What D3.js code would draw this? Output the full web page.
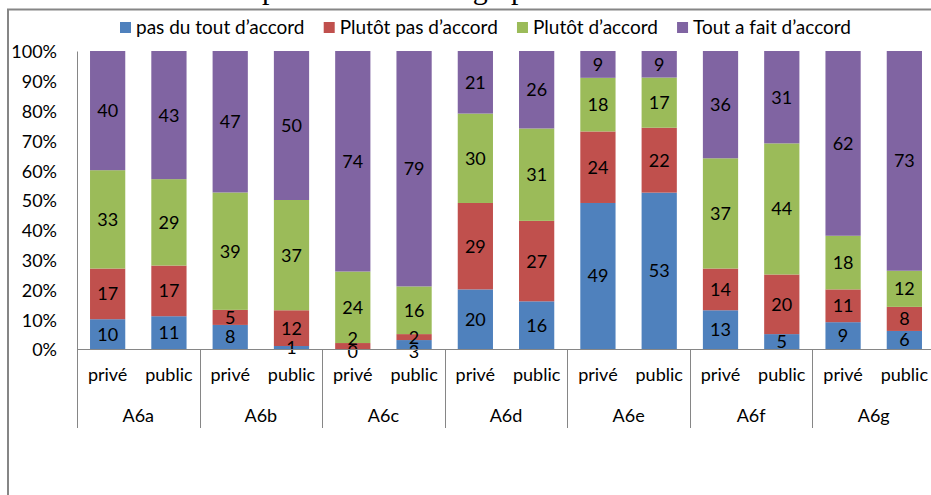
<!DOCTYPE html>
<html>
<head>
<meta charset="utf-8">
<script src="https://cdn.jsdelivr.net/npm/d3@7"></script>
<style>
  html, body { margin: 0; padding: 0; background: #fff; }
  svg { display: block; }
  text { font-family: Lato, "Open Sans", sans-serif; }
</style>
</head>
<body>
<svg id="chart" width="931" height="495"></svg>
<script>
// ---------- data ----------
const groups = ["A6a", "A6b", "A6c", "A6d", "A6e", "A6f", "A6g"];
const sectors = ["privé", "public"];
const seriesNames = ["pas du tout d’accord", "Plutôt pas d’accord", "Plutôt d’accord", "Tout a fait d’accord"];
const seriesColors = ["#4F81BD", "#C0504D", "#9BBB59", "#8064A2"];
// one value per bar, order: A6a privé, A6a public, A6b privé, ...
const pasDuTout     = [10, 11,  8,  1,  0,  3, 20, 16, 49, 53, 13,  5,  9,  6];
const plutotPas     = [17, 17,  5, 12,  2,  2, 29, 27, 24, 22, 14, 20, 11,  8];
const plutotDaccord = [33, 29, 39, 37, 24, 16, 30, 31, 18, 17, 37, 44, 18, 12];
const toutAFait     = [40, 43, 47, 50, 74, 79, 21, 26,  9,  9, 36, 31, 62, 73];
const yTicks = [0, 0.1, 0.2, 0.3, 0.4, 0.5, 0.6, 0.7, 0.8, 0.9, 1];
const headerText = "Les résultats obtenus sont présentés dans le graphe ci-dessous.";

(function () {
// ---------- build table ----------
const keys = ["s0", "s1", "s2", "s3"];
const seriesArrays = [pasDuTout, plutotPas, plutotDaccord, toutAFait];
const rows = [];
groups.forEach((g, gi) => sectors.forEach((s, si) => {
  const i = gi * sectors.length + si;
  const r = { id: g + "|" + s, group: g, sector: s };
  keys.forEach((k, ki) => r[k] = seriesArrays[ki][i]);
  rows.push(r);
}));

const svg = d3.select("#chart");
const pLeft = 77, pRight = 935, pTop = 51, pBottom = 349;
const axisColor = "#868686";

// header text (mostly cut off at the top edge)
const hdr = svg.append("text")
  .attr("y", -1.5)
  .style("font-family", "'Liberation Serif', 'Times New Roman', serif")
  .style("font-size", "30px")
  .attr("fill", "#000")
  .text(headerText);
{
  const idx = headerText.indexOf("présentés");
  const pre = hdr.node().getSubStringLength(0, idx);
  hdr.attr("x", 262 - pre);
}

// outer chart border
svg.append("rect")
  .attr("x", 8).attr("y", 9.5)
  .attr("width", 1000).attr("height", 600)
  .attr("fill", "none").attr("stroke", axisColor).attr("stroke-width", 2);

// scales
const x = d3.scaleBand().domain(rows.map(d => d.id)).range([pLeft, pRight])
  .paddingInner(0.425).paddingOuter(0.2125);
const y = d3.scaleLinear().domain([0, 1]).range([pBottom, pTop]);

const stack = d3.stack().keys(keys).offset(d3.stackOffsetExpand);
const stacked = stack(rows);

// y axis
const yAxis = d3.axisLeft(y).tickValues(yTicks).tickFormat(d3.format(".0%")).tickSize(0).tickPadding(20);
const yg = svg.append("g").attr("transform", `translate(${pLeft},0)`).call(yAxis);
yg.select(".domain").attr("stroke", axisColor);
yg.selectAll("text").style("font-size", "18px").attr("fill", "#000").attr("dy", "0.38em");

// bars
const layers = svg.append("g").selectAll("g").data(stacked).join("g")
  .attr("fill", (d, i) => seriesColors[i]);
layers.selectAll("rect").data(d => d).join("rect")
  .attr("x", d => x(d.data.id))
  .attr("width", x.bandwidth())
  .attr("y", d => y(d[1]))
  .attr("height", d => y(d[0]) - y(d[1]));

// data labels: centred in segments, with a small de-overlap per bar
const minGap = 13;
const labels = [];
rows.forEach((r, ri) => {
  const col = stacked.map((layer, li) => ({
    x: x(r.id) + x.bandwidth() / 2,
    y: y((layer[ri][0] + layer[ri][1]) / 2),
    text: r[keys[li]]
  }));
  if (col[0].y - col[1].y < minGap) {
    col[0].y = Math.max(col[0].y, pBottom + 3);
  }
  for (let i = 1; i < col.length; i++) {
    if (col[i - 1].y - col[i].y < minGap) col[i].y = col[i - 1].y - minGap;
  }
  labels.push(...col);
});
svg.append("g").selectAll("text").data(labels).join("text")
  .attr("x", d => d.x)
  .attr("y", d => d.y)
  .attr("dy", "0.36em")
  .attr("text-anchor", "middle")
  .style("font-size", "18px")
  .attr("fill", "#000")
  .text(d => d.text);

// category axis (two levels)
const xg = svg.append("g");
xg.append("line").attr("x1", pLeft).attr("x2", pRight).attr("y1", pBottom + 0.5).attr("y2", pBottom + 0.5)
  .attr("stroke", axisColor);
const gx = d3.scaleBand().domain(groups).range([pLeft, pRight]);
d3.range(groups.length + 1).forEach(i => {
  const xx = Math.round(pLeft + i * gx.step()) + 0.5;
  xg.append("line").attr("x1", xx).attr("x2", xx).attr("y1", pBottom).attr("y2", 428)
    .attr("stroke", axisColor);
});
xg.selectAll("text.l1").data(rows).join("text").attr("class", "l1")
  .attr("x", d => x(d.id) + x.bandwidth() / 2)
  .attr("y", 380.5)
  .attr("text-anchor", "middle")
  .style("font-size", "18px").attr("fill", "#000")
  .text(d => d.sector);
xg.selectAll("text.l2").data(groups).join("text").attr("class", "l2")
  .attr("x", d => gx(d) + gx.bandwidth() / 2)
  .attr("y", 421.5)
  .attr("text-anchor", "middle")
  .style("font-size", "18px").attr("fill", "#000")
  .text(d => d);

// legend
const lg = svg.append("g");
const sq = 11, sqGap = 5;
const items = lg.selectAll("g").data(seriesNames).join("g");
items.append("rect").attr("width", sq).attr("height", sq).attr("y", 22)
  .attr("fill", (d, i) => seriesColors[i]);
items.append("text").attr("x", sq + sqGap).attr("y", 27.5).attr("dy", "0.36em")
  .style("font-size", "19px").attr("fill", "#000").text(d => d);
const widths = [];
items.each(function () { widths.push(this.querySelector("text").getComputedTextLength() + sq + sqGap); });
const legStart = 120, legEnd = 851;
const gap = (legEnd - legStart - d3.sum(widths)) / (seriesNames.length - 1);
let cx = legStart;
items.attr("transform", (d, i) => { const t = `translate(${cx},0)`; cx += widths[i] + gap; return t; });
})();
</script>
</body>
</html>
